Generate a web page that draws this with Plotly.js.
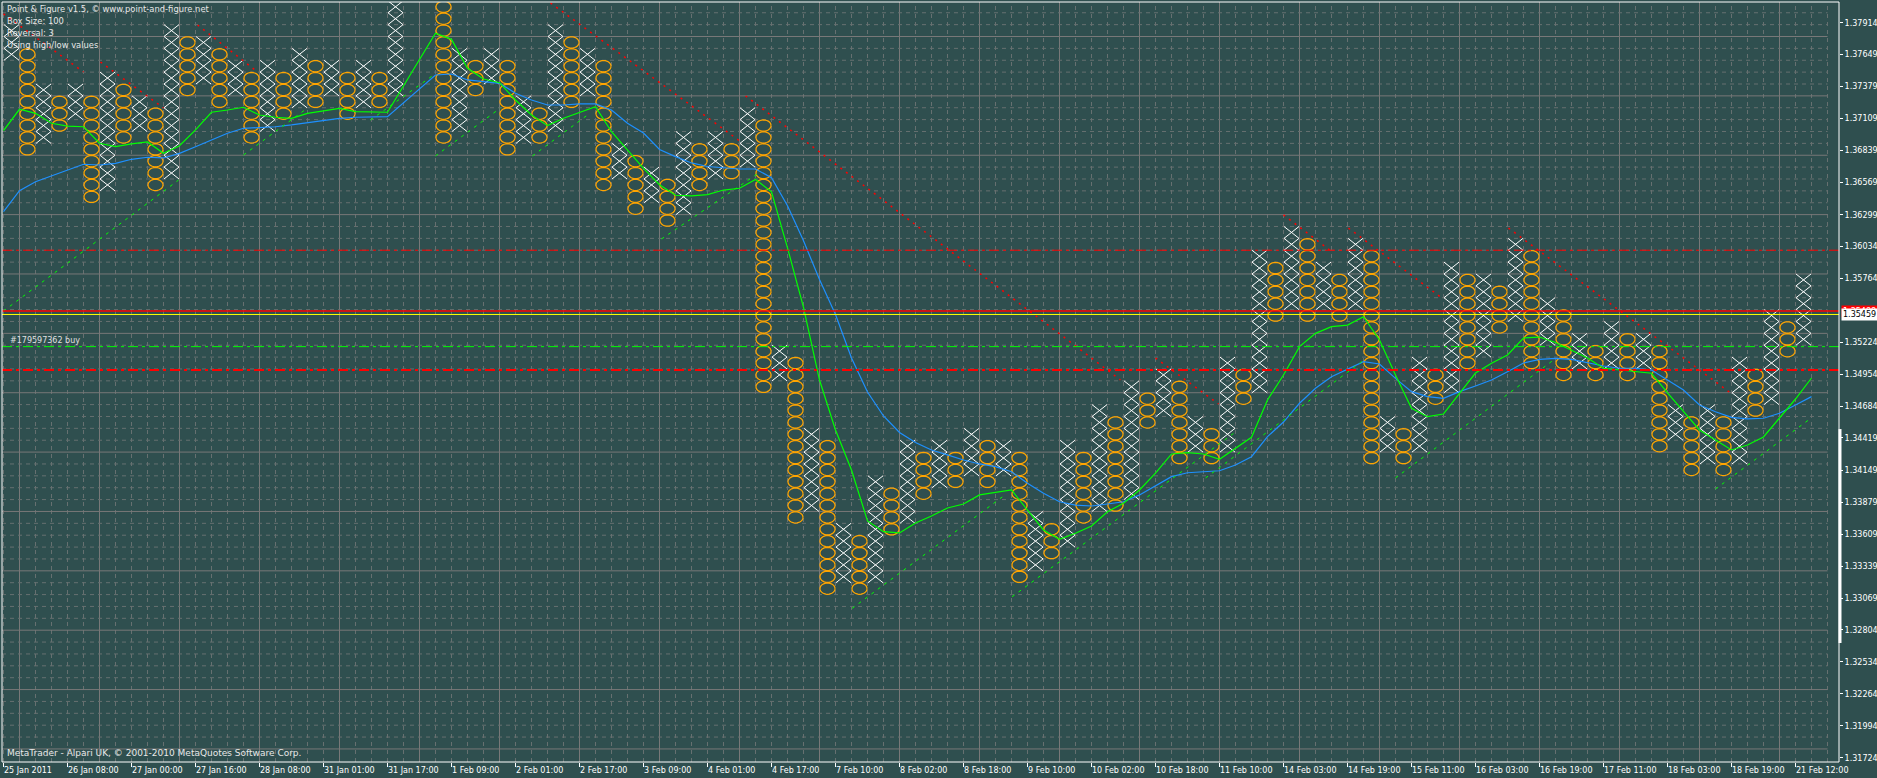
<!DOCTYPE html>
<html><head><meta charset="utf-8">
<script src="https://cdn.plot.ly/plotly-3.0.1.min.js"></script>
<style>html,body{margin:0;padding:0;background:#2F4F4F;overflow:hidden}#chart{width:1877px;height:778px}</style>
</head><body><div id="chart"></div>
<script>
// ---------------- DATA ----------------
const BOX = 0.001;            // box size 100 points
// Point & Figure columns: slot (time position), type, highest / lowest box centre price
const colSlot = [0,1,2,3,4,5,6,7,8,9,10,11,12,13,14,15,16,17,18,19,20,21,22,23,24,
  27,28,29,30,31,32,33,34,35,36,37,38,39,40,41,42,43,44,45,46,47,48,49,50,51,52,53,54,55,56,57,58,59,
  60,61,62,63,64,65,66,67,68,69,70,71,72,73,74,75,76,77,78,79,80,81,82,83,84,85,86,87,88,89,
  90,91,92,93,94,95,96,97,98,99,100,101,102,103,104,105,106,107,108,109,110,111,112];
const colType = ['X','O','X','O','X','O','X','O','X','O','X','O','X','O','X','O','X','O','X','O','X','O','X','O','X',
  'O','X','O','X','O','X','O','X','O','X','O','X','O','X','O','X','O','X','O','X','O','X','O','X','O','X','O','X','O','X','O','X','O',
  'X','O','X','O','X','O','X','O','X','O','X','O','X','O','X','O','X','O','X','O','X','O','X','O','X','O','X','O','X','O',
  'X','O','X','O','X','O','X','O','X','O','X','O','X','O','X','O','X','O','X','O','X','O','X'];
const colHigh = [1.3785,1.3765,1.3735,1.3725,1.3735,1.3725,1.3745,1.3735,1.3725,1.3715,1.3785,1.3775,1.3775,1.3765,1.3755,1.3745,1.3755,1.3745,1.3765,1.3755,1.3755,1.3745,1.3755,1.3745,1.3805,
  1.3805,1.3765,1.3755,1.3765,1.3755,1.3725,1.3715,1.3785,1.3775,1.3765,1.3755,1.3685,1.3675,1.3665,1.3655,1.3695,1.3685,1.3695,1.3685,1.3715,1.3705,1.3515,1.3505,1.3445,1.3435,1.3365,1.3355,1.3405,1.3395,1.3435,1.3425,1.3435,1.3425,
  1.3445,1.3435,1.3435,1.3425,1.3375,1.3365,1.3435,1.3425,1.3465,1.3455,1.3485,1.3475,1.3495,1.3485,1.3455,1.3445,1.3505,1.3495,1.3595,1.3585,1.3615,1.3605,1.3585,1.3575,1.3605,1.3595,1.3455,1.3445,1.3505,1.3495,
  1.3585,1.3575,1.3575,1.3565,1.3605,1.3595,1.3555,1.3545,1.3525,1.3515,1.3535,1.3525,1.3525,1.3515,1.3465,1.3455,1.3465,1.3455,1.3505,1.3495,1.3545,1.3535,1.3575];
const colLow = [1.3765,1.3685,1.3695,1.3705,1.3715,1.3645,1.3655,1.3695,1.3705,1.3655,1.3665,1.3735,1.3745,1.3725,1.3735,1.3695,1.3705,1.3715,1.3725,1.3725,1.3735,1.3715,1.3725,1.3725,1.3735,
  1.3695,1.3705,1.3735,1.3745,1.3685,1.3695,1.3695,1.3705,1.3725,1.3735,1.3655,1.3665,1.3635,1.3645,1.3625,1.3635,1.3655,1.3665,1.3665,1.3675,1.3485,1.3495,1.3375,1.3385,1.3315,1.3325,1.3315,1.3325,1.3365,1.3375,1.3395,1.3405,1.3405,
  1.3415,1.3405,1.3415,1.3325,1.3335,1.3345,1.3355,1.3375,1.3385,1.3385,1.3395,1.3455,1.3465,1.3425,1.3435,1.3425,1.3435,1.3475,1.3485,1.3545,1.3555,1.3545,1.3555,1.3545,1.3555,1.3425,1.3435,1.3425,1.3435,1.3475,
  1.3485,1.3505,1.3515,1.3535,1.3545,1.3505,1.3525,1.3495,1.3505,1.3495,1.3505,1.3495,1.3505,1.3435,1.3445,1.3415,1.3425,1.3415,1.3425,1.3465,1.3475,1.3515,1.3525];

// moving averages, one value per column slot
const maSlot = [0,1,2,3,4,5,6,7,8,9,10,11,12,13,14,15,16,17,18,19,20,21,22,23,24,
  27,28,29,30,31,32,33,34,35,36,37,38,39,40,41,42,43,44,45,46,47,48,49,50,51,52,53,54,55,56,57,58,59,
  60,61,62,63,64,65,66,67,68,69,70,71,72,73,74,75,76,77,78,79,80,81,82,83,84,85,86,87,88,89,
  90,91,92,93,94,95,96,97,98,99,100,101,102,103,104,105,106,107,108,109,110,111,112,113];
const maFast = [1.37007,1.37187,1.37153,1.37069,1.37046,1.37040,1.36901,1.36872,1.36895,1.36912,1.36816,1.36880,1.37013,1.37162,1.37181,1.37204,1.37139,1.37120,1.37111,1.37153,1.37173,1.37195,1.37167,1.37162,1.37162,
  1.37827,1.37776,1.37532,1.37442,1.37411,1.37265,1.37139,1.37049,1.37111,1.37158,1.37209,1.36998,1.36844,1.36690,1.36552,1.36463,1.36457,1.36469,1.36507,1.36522,1.36596,1.36492,1.36020,1.35518,1.34907,1.34486,1.34149,1.33720,1.33630,1.33619,1.33703,1.33762,1.33829,
  1.33863,1.33939,1.33958,1.33981,1.33812,1.33644,1.33566,1.33616,1.33678,1.33798,1.33869,1.33981,1.34122,1.34284,1.34295,1.34284,1.34239,1.34332,1.34425,1.34739,1.34949,1.35188,1.35300,1.35356,1.35370,1.35440,1.35244,1.34949,1.34669,1.34598,
  1.34621,1.34795,1.34966,1.35048,1.35118,1.35261,1.35269,1.35223,1.35160,1.35092,1.35006,1.34991,1.34977,1.34964,1.34798,1.34638,1.34486,1.34402,1.34318,1.34360,1.34427,1.34587,1.34747,1.34924];
const maSlow = [1.36325,1.36501,1.36577,1.36625,1.36676,1.36724,1.36718,1.36732,1.36766,1.36783,1.36777,1.36816,1.36872,1.36928,1.36985,1.37027,1.37035,1.37040,1.37055,1.37074,1.37093,1.37111,1.37120,1.37125,1.37125,
  1.37476,1.37484,1.37434,1.37419,1.37406,1.37322,1.37265,1.37223,1.37223,1.37232,1.37232,1.37181,1.37069,1.36987,1.36848,1.36788,1.36735,1.36705,1.36693,1.36684,1.36684,1.36611,1.36374,1.36079,1.35754,1.35458,1.35092,1.34806,1.34604,1.34465,1.34381,1.34318,1.34276,
  1.34233,1.34200,1.34177,1.34135,1.34037,1.33953,1.33882,1.33854,1.33846,1.33863,1.33882,1.33939,1.34014,1.34093,1.34126,1.34135,1.34143,1.34191,1.34261,1.34430,1.34553,1.34711,1.34837,1.34935,1.34997,1.35061,1.35042,1.34921,1.34809,1.34767,
  1.34753,1.34809,1.34857,1.34907,1.34977,1.35050,1.35081,1.35090,1.35081,1.35054,1.35025,1.35006,1.35006,1.34991,1.34907,1.34823,1.34697,1.34640,1.34593,1.34579,1.34585,1.34627,1.34697,1.34767];

// 45-degree trend lines: [slot0, price0, slot1, price1]
const resistLines = [[-0.5,1.37990,4.5,1.37501],[5.56,1.37585,9.5,1.37198],[11.63,1.37897,15.38,1.37501],
  [33.69,1.38082,45.69,1.36903],[45.88,1.37299,69.31,1.34907],[71.5,1.35092,75.44,1.34705],
  [79.5,1.36297,82.63,1.35977],[83.56,1.36187,89.31,1.35606],[93.56,1.36187,107.44,1.34798]];
const supportLines = [[-0.5,1.35488,10.44,1.36591],[14.5,1.36802,18.5,1.37198],[22.44,1.37097,26.38,1.37476],
  [26.5,1.36794,30.56,1.37198],[32.56,1.36794,36,1.37139],[40.63,1.36095,46.75,1.36655],
  [52.54,1.32984,62,1.33930],[62.54,1.33082,76.5,1.34470],[74.63,1.34082,84.44,1.35067],
  [86.5,1.34082,96.38,1.35076],[106.5,1.33989,112.31,1.34570]];

// horizontal levels
const levelResist = 1.36000, levelAsk = 1.35488, levelBid = 1.35459, levelOrder = 1.35188, levelSupport = 1.34991;
const orderLabel = '#179597362 buy';

// axis labels
const priceTicks = [1.37914,1.37649,1.37379,1.37109,1.36839,1.36569,1.36299,1.36034,1.35764,1.35224,1.34954,
  1.34684,1.34419,1.34149,1.33879,1.33609,1.33339,1.33069,1.32804,1.32534,1.32264,1.31994,1.31724];
const dateLabels = ['25 Jan 2011','26 Jan 08:00','27 Jan 00:00','27 Jan 16:00','28 Jan 08:00','31 Jan 01:00','31 Jan 17:00',
  '1 Feb 09:00','2 Feb 01:00','2 Feb 17:00','3 Feb 09:00','4 Feb 01:00','4 Feb 17:00','7 Feb 10:00','8 Feb 02:00',
  '8 Feb 18:00','9 Feb 10:00','10 Feb 02:00','10 Feb 18:00','11 Feb 10:00','14 Feb 03:00','14 Feb 19:00','15 Feb 11:00',
  '16 Feb 03:00','16 Feb 19:00','17 Feb 11:00','18 Feb 03:00','18 Feb 19:00','21 Feb 12:00'];
const infoLines = ['Point & Figure v1.5, © www.point-and-figure.net','Box Size: 100','Reversal: 3','Using high/low values'];
const footer = 'MetaTrader - Alpari UK, © 2001-2010 MetaQuotes Software Corp.';

// ---------------- BUILD ----------------
const FONT = 'DejaVu Sans, Verdana, sans-serif';
const xs = [], ys = [], ox = [], oy = [];
for (let c = 0; c < colSlot.length; c++) {
  const j = colSlot[c];
  const n = Math.round((colHigh[c] - colLow[c]) / BOX) + 1;
  for (let b = 0; b < n; b++) {
    const p = colLow[c] + b * BOX;
    if (colType[c] === 'X') {
      xs.push(j - 0.47, j + 0.47, null, j - 0.47, j + 0.47, null);
      ys.push(p - BOX / 2, p + BOX / 2, null, p + BOX / 2, p - BOX / 2, null);
    } else {
      for (let t = 0; t <= 28; t++) {
        const a = 2 * Math.PI * t / 28;
        ox.push(j + 0.47 * Math.cos(a)); oy.push(p + 0.475 * BOX * Math.sin(a));
      }
      ox.push(null); oy.push(null);
    }
  }
}
function segs(list) {
  const x = [], y = [];
  list.forEach(s => { x.push(s[0], s[2], null); y.push(s[1], s[3], null); });
  return {x, y};
}
const rs = segs(resistLines), ss = segs(supportLines);
const maX = maSlot.map(j => j - 0.5); // averages are plotted at each column's opening edge

const traces = [
  {type:'scatter', mode:'lines', x:ox, y:oy, line:{color:'#FFA500', width:1.25, simplify:false}, hoverinfo:'skip'},
  {type:'scatter', mode:'lines', x:xs, y:ys, line:{color:'#FFFFFF', width:1, simplify:false}, hoverinfo:'skip'},
  {type:'scatter', mode:'lines', x:maX, y:maSlow, line:{color:'#1E90FF', width:1.2}, hoverinfo:'skip'},
  {type:'scatter', mode:'lines', x:maX, y:maFast, line:{color:'#00FF00', width:1.2}, hoverinfo:'skip'},
  {type:'scatter', mode:'lines', x:rs.x, y:rs.y, line:{color:'#FF0000', width:1.5, dash:'2px,5px'}, hoverinfo:'skip'},
  {type:'scatter', mode:'lines', x:ss.x, y:ss.y, line:{color:'#00FF00', width:1, dash:'3px,5px'}, hoverinfo:'skip'}
];

// plot-area geometry (pixels) used to place texts
const L = 2, T = 2, W = 1837, H = 760;
const pxX = px => (px - L) / W;
const pxY = py => 1 - (py - T) / H;

const shapes = [];
for (let k = -2; k <= 60; k++) {
  const p = 1.378 - k * BOX, major = (k % 5 === 0);
  shapes.push({type:'line', layer:'below', xref:'x', yref:'y', x0:-0.59375, x1:113.5, y0:p, y1:p,
    line:{color: major ? '#787878' : '#667070', width:1, dash: major ? 'solid' : '4px,4px'}});
}
for (let k = 0; k <= 114; k++) {
  const major = (k % 5 === 1);
  shapes.push({type:'line', layer:'below', xref:'x', yref:'paper', x0:k - 0.5, x1:k - 0.5, y0:0, y1:1,
    line:{color: major ? '#787878' : '#667070', width:1, dash: major ? 'solid' : '4px,4px'}});
}
const hline = (p, color, width, dash) => ({type:'line', layer:'above', xref:'paper', yref:'y', x0:0, x1:1, y0:p, y1:p, line:{color, width, dash}});
shapes.push(hline(levelResist, '#FF0000', 1, '10px,4px,3px,4px'));
shapes.push(hline(levelAsk, '#FF0000', 1.5, 'solid'));
shapes.push(hline(levelBid, '#FFFF00', 1, 'solid'));
shapes.push(hline(levelOrder, '#00FF00', 1, '10px,4px,3px,4px'));
shapes.push(hline(levelSupport, '#FF0000', 2, '10px,4px,3px,4px'));
shapes.push({type:'rect', layer:'above', xref:'paper', yref:'paper', x0:0, x1:1, y0:0, y1:1, line:{color:'#FFFFFF', width:1}, fillcolor:'rgba(0,0,0,0)'});
shapes.push({type:'line', layer:'above', xref:'paper', yref:'y', x0:pxX(1840), x1:pxX(1840), y0:1.34494, y1:1.32692, line:{color:'#FFFFFF', width:3}});

const annotations = [];
infoLines.forEach((t, i) => annotations.push({xref:'paper', yref:'paper', x:pxX(5), y:pxY(8.5 + 12.2 * i), xanchor:'left', yanchor:'middle',
  text:t, showarrow:false, font:{family:FONT, size:8.4, color:'#E8E8E8'}}));
annotations.push({xref:'paper', yref:'paper', x:pxX(5), y:pxY(753), xanchor:'left', yanchor:'middle', text:footer, showarrow:false,
  font:{family:FONT, size:9, color:'#E8E8E8'}});
annotations.push({xref:'paper', yref:'y', x:pxX(8), y:levelOrder, xanchor:'left', yanchor:'bottom', text:orderLabel, showarrow:false,
  font:{family:FONT, size:8, color:'#E0E0E0'}});
annotations.push({xref:'paper', yref:'y', x:pxX(1841), y:levelAsk, xanchor:'left', yanchor:'middle', text:levelAsk.toFixed(5), showarrow:false,
  bgcolor:'#FF0000', borderpad:1, font:{family:FONT, size:8, color:'#FFFFFF'}});
annotations.push({xref:'paper', yref:'y', x:pxX(1841), y:levelBid, xanchor:'left', yanchor:'middle', text:levelBid.toFixed(5), showarrow:false,
  bgcolor:'#FFFFFF', borderpad:1, font:{family:FONT, size:8, color:'#000000'}});

const layout = {
  width:1877, height:778,
  margin:{l:L, r:1877 - L - W, t:T, b:778 - T - H, pad:0},
  paper_bgcolor:'#2F4F4F', plot_bgcolor:'#2F4F4F',
  showlegend:false, hovermode:false,
  xaxis:{range:[-0.59375, 114.21875], showgrid:false, zeroline:false, showline:false,
    tickmode:'array', tickvals:dateLabels.map((_, i) => 4 * i - 0.5), ticktext:dateLabels,
    ticks:'outside', ticklen:4, tickcolor:'#FFFFFF', tickangle:0, ticklabelposition:'outside right',
    tickfont:{family:FONT, size:8, color:'#FFFFFF'}, fixedrange:true},
  yaxis:{range:[1.3169, 1.3809055], side:'right', showgrid:false, zeroline:false, showline:false,
    tickmode:'array', tickvals:priceTicks, ticktext:priceTicks.map(v => v.toFixed(5)),
    ticks:'outside', ticklen:3, tickcolor:'#FFFFFF',
    tickfont:{family:FONT, size:8, color:'#FFFFFF'}, fixedrange:true},
  shapes, annotations
};
Plotly.newPlot('chart', traces, layout, {staticPlot:true, displayModeBar:false});
</script></body></html>
